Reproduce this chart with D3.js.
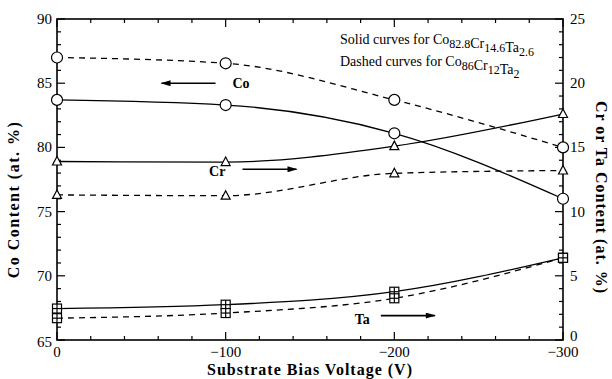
<!DOCTYPE html>
<html>
<head>
<meta charset="utf-8">
<script src="https://cdn.jsdelivr.net/npm/d3@7"></script>
<style>
  body { margin: 0; background: #fff; }
  svg { display: block; }
</style>
</head>
<body>
<div id="container"></div>
<script>
// bias voltage (V)
const voltages = [0, -100, -200, -300]
const xTicks = [0, -100, -200, -300]
const xTickLabels = ['0', '\u2212100', '\u2212200', '\u2212300']
const leftTicks = [65, 70, 75, 80, 85, 90]
const rightTicks = [0, 5, 10, 15, 20, 25]

// Co content, left axis (at. %)
const coSolid = [83.7, 83.3, 81.1, 76.0]
const coDashed = [87.0, 86.55, 83.7, 80.0]
// Cr and Ta content, right axis (at. %)
const crSolid = [13.9, 13.86, 15.1, 17.6]
const crDashed = [11.3, 11.24, 12.98, 13.2]
const taSolid = [2.45, 2.75, 3.76, 6.4]
const taDashed = [1.7, 2.1, 3.25, 6.4]

const width = 612
const height = 379
const margin = { top: 19, right: 49, bottom: 39, left: 57 }

function drawChart () {
  const svg = d3.select('#container')
    .append('svg')
    .attr('width', width)
    .attr('height', height)
    .attr('font-family', '"Liberation Serif", "DejaVu Serif", "Times New Roman", serif')

  const x = d3.scaleLinear().domain([0, -300]).range([margin.left, width - margin.right])
  const yL = d3.scaleLinear().domain([65, 90]).range([height - margin.bottom, margin.top])
  const yR = d3.scaleLinear().domain([0, 25]).range([height - margin.bottom, margin.top])
  const x0 = x.range()[0]
  const x1 = x.range()[1]
  const y0 = yL.range()[0]
  const y1 = yL.range()[1]

  // frame
  svg.append('rect')
    .attr('x', x0).attr('y', y1)
    .attr('width', x1 - x0).attr('height', y0 - y1)
    .attr('fill', 'none').attr('stroke', '#000').attr('stroke-width', 1.6)

  // ticks (all inward)
  const tk = svg.append('g').attr('stroke', '#000').attr('stroke-width', 1.2)
  d3.range(0, -301, -20).forEach(v => {
    const len = v % 100 === 0 ? 8 : 4
    tk.append('line').attr('x1', x(v)).attr('x2', x(v)).attr('y1', y0).attr('y2', y0 - len)
    tk.append('line').attr('x1', x(v)).attr('x2', x(v)).attr('y1', y1).attr('y2', y1 + len)
  })
  d3.range(65, 90.5, 1).forEach(v => {
    const len = v % 5 === 0 ? 8 : 4
    tk.append('line').attr('x1', x0).attr('x2', x0 + len).attr('y1', yL(v)).attr('y2', yL(v))
  })
  d3.range(0, 25.5, 1).forEach(v => {
    const len = v % 5 === 0 ? 8 : 4
    tk.append('line').attr('x1', x1).attr('x2', x1 - len).attr('y1', yR(v)).attr('y2', yR(v))
  })

  // tick labels
  svg.append('g').selectAll('text').data(xTicks).join('text')
    .attr('x', d => x(d)).attr('y', y0 + 17)
    .attr('text-anchor', 'middle').attr('font-size', 15)
    .text((d, i) => xTickLabels[i])
  svg.append('g').selectAll('text').data(leftTicks).join('text')
    .attr('x', x0 - 5).attr('y', d => yL(d) + (d === 65 ? 7 : 5))
    .attr('text-anchor', 'end').attr('font-size', 15)
    .text(d => d)
  svg.append('g').selectAll('text').data(rightTicks).join('text')
    .attr('x', x1 + 7).attr('y', d => yR(d) + (d === 0 ? 1 : 5))
    .attr('text-anchor', 'start').attr('font-size', 15)
    .text(d => d)

  // axis titles
  svg.append('text')
    .attr('x', (x0 + x1) / 2).attr('y', height - 4)
    .attr('text-anchor', 'middle').attr('font-size', 16).attr('font-weight', 'bold')
    .attr('letter-spacing', 1)
    .text('Substrate Bias Voltage (V)')
  svg.append('text')
    .attr('transform', `translate(19,${(y0 + y1) / 2 + 20}) rotate(-90)`)
    .attr('text-anchor', 'middle').attr('font-size', 16).attr('font-weight', 'bold')
    .attr('letter-spacing', 1.5)
    .text('Co Content (at. %)')
  svg.append('text')
    .attr('transform', `translate(596,${(y0 + y1) / 2 + 18}) rotate(90)`)
    .attr('text-anchor', 'middle').attr('font-size', 16).attr('font-weight', 'bold')
    .attr('letter-spacing', 1)
    .text('Cr or Ta Content (at. %)')

  // curves
  const series = [
    { vals: coSolid, y: yL, dash: null, mark: 'circle' },
    { vals: coDashed, y: yL, dash: '6,5', mark: 'circle' },
    { vals: crSolid, y: yR, dash: null, mark: 'triangle' },
    { vals: crDashed, y: yR, dash: '6,5', mark: 'triangle' },
    { vals: taSolid, y: yR, dash: null, mark: 'square' },
    { vals: taDashed, y: yR, dash: '6,5', mark: 'square' }
  ]
  series.forEach(s => {
    const line = d3.line()
      .x((d, i) => x(voltages[i]))
      .y(d => s.y(d))
      .curve(d3.curveMonotoneX)
    svg.append('path')
      .datum(s.vals)
      .attr('fill', 'none')
      .attr('stroke', '#000')
      .attr('stroke-width', 1.3)
      .attr('stroke-dasharray', s.dash)
      .attr('d', line)
  })

  // markers
  series.forEach(s => {
    const g = svg.append('g').attr('stroke', '#000').attr('stroke-width', 1.2).attr('fill', '#fff')
    s.vals.forEach((v, i) => {
      const cx = x(voltages[i])
      const cy = s.y(v)
      if (s.mark === 'circle') {
        g.append('circle').attr('cx', cx).attr('cy', cy).attr('r', 5.5)
      } else if (s.mark === 'triangle') {
        g.append('path').attr('d', `M${cx},${cy - 5}L${cx + 4.5},${cy + 3.5}L${cx - 4.5},${cy + 3.5}Z`)
      } else {
        g.append('rect').attr('x', cx - 4.5).attr('y', cy - 4.5).attr('width', 9).attr('height', 9)
        g.append('line').attr('x1', cx - 4.5).attr('x2', cx + 4.5).attr('y1', cy).attr('y2', cy)
        g.append('line').attr('x1', cx).attr('x2', cx).attr('y1', cy - 4.5).attr('y2', cy + 4.5)
      }
    })
  })

  // annotations with arrows
  svg.append('defs').append('marker')
    .attr('id', 'arr').attr('viewBox', '0 0 10 6').attr('refX', 9).attr('refY', 3)
    .attr('markerWidth', 12).attr('markerHeight', 6).attr('markerUnits', 'userSpaceOnUse')
    .attr('orient', 'auto')
    .append('path').attr('d', 'M0,0L10,3L0,6Z').attr('fill', '#000')
  const notes = [
    { label: 'Co', tx: -104, ty: 85, ax1: -94, ax2: -62, ay: 85, scale: yL },
    { label: 'Cr', tx: -95, ty: 78.2, ax1: -110, ax2: -142, ay: 78.3, scale: yL },
    { label: 'Ta', tx: -181, ty: 66.6, ax1: -192, ax2: -224, ay: 66.9, scale: yL }
  ]
  notes.forEach(n => {
    svg.append('text')
      .attr('x', x(n.tx)).attr('y', n.scale(n.ty) + 5)
      .attr('font-size', 14).attr('font-weight', 'bold')
      .attr('text-anchor', n.label === 'Co' ? 'start' : 'middle')
      .text(n.label)
    svg.append('line')
      .attr('x1', x(n.ax1)).attr('x2', x(n.ax2))
      .attr('y1', n.scale(n.ay)).attr('y2', n.scale(n.ay))
      .attr('stroke', '#000').attr('stroke-width', 1.6)
      .attr('marker-end', 'url(#arr)')
  })

  // legend text
  const legend = [
    { text: 'Solid curves for ', parts: [['Co', '82.8'], ['Cr', '14.6'], ['Ta', '2.6']], y: 44 },
    { text: 'Dashed curves for ', parts: [['Co', '86'], ['Cr', '12'], ['Ta', '2']], y: 66 }
  ]
  legend.forEach(l => {
    const t = svg.append('text').attr('x', 340).attr('y', l.y).attr('font-size', 14)
    t.append('tspan').text(l.text)
    l.parts.forEach(p => {
      t.append('tspan').attr('dy', 0).text(p[0])
      t.append('tspan').attr('dy', 4).attr('font-size', 12).text(p[1])
      t.append('tspan').attr('dy', -4).text('')
    })
  })
}

drawChart()
</script>
</body>
</html>
